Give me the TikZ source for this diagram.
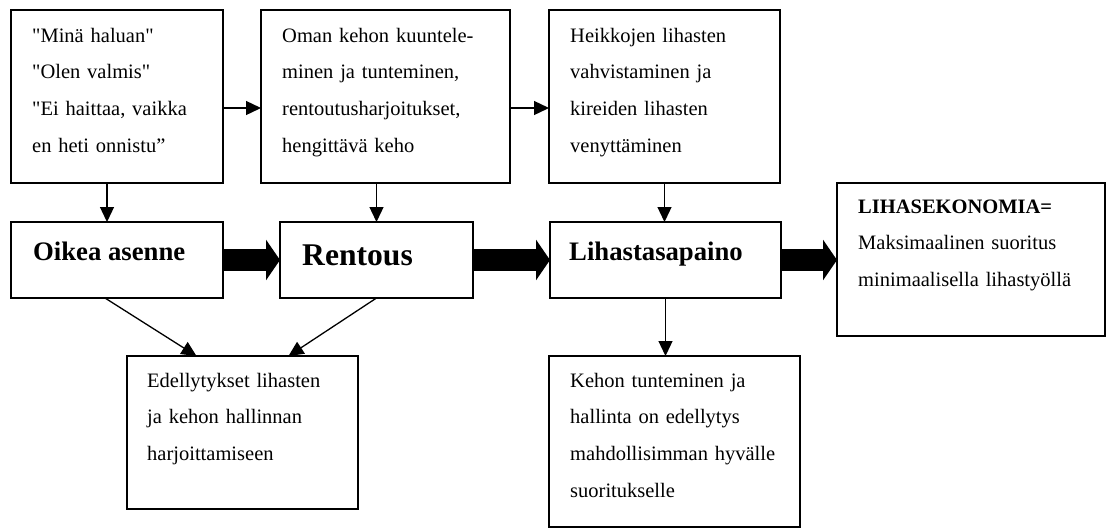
\documentclass[tikz,border=0pt]{standalone}
\usepackage{fontspec}
\setmainfont{Liberation Serif}[Ligatures=TeXOff]
\usetikzlibrary{arrows.meta,calc,positioning}

\begin{document}
\begin{tikzpicture}[x=1pt,y=-1pt,
  box/.style={draw,line width=1.6pt,anchor=north west,inner sep=0pt,outer sep=0pt},
  txt/.style={anchor=base west,inner sep=0pt,align=left,font=\fontsize{20.5}{36.8}\selectfont},
  head/.style={anchor=base west,inner sep=0pt,font=\bfseries\fontsize{26.7}{30}\selectfont},
  arr/.style={line width=1.3pt,-{Triangle[length=15pt,width=14pt]}},
  fat/.style={line width=22pt,-{Triangle[length=14pt,width=40pt]}}]
\useasboundingbox (0,0) rectangle (1113,528);

% top row
\node[box,minimum width=212pt,minimum height=173pt] (halu) at (11,10) {};
\node[box,minimum width=249pt,minimum height=173pt] (keho) at (261,10) {};
\node[box,minimum width=231pt,minimum height=173pt] (lihakset) at (549,10) {};

% middle row
\node[box,minimum width=212pt,minimum height=76pt] (asenne) at (11,222) {};
\node[box,minimum width=193pt,minimum height=76pt] (rentous) at (280,222) {};
\node[box,minimum width=231pt,minimum height=76pt] (tasapaino) at (550,222) {};
\node[box,minimum width=268pt,minimum height=153pt] (ekonomia) at (837,183) {};

% bottom row
\node[box,minimum width=231pt,minimum height=153pt] (edell) at (127,356) {};
\node[box,minimum width=251pt,minimum height=171pt] (hallinta) at (549,356) {};

% texts
\node[txt,text width=185pt] (tHalu) at ($(halu.north west)+(21,32)$)
  {"Minä haluan"\\"Olen valmis"\\"Ei haittaa, vaikka\\en heti onnistu”};
\node[txt,text width=220pt] (tKeho) at ($(keho.north west)+(21,32)$)
  {Oman kehon kuuntele-\\minen ja tunteminen,\\rentoutusharjoitukset,\\hengittävä keho};
\node[txt,text width=200pt] (tLihakset) at ($(lihakset.north west)+(21,32)$)
  {Heikkojen lihasten\\vahvistaminen ja\\kireiden lihasten\\venyttäminen};
\node[head] (tAsenne) at ($(asenne.north west)+(22,38)$) {Oikea asenne};
\node[head,font=\bfseries\fontsize{31.6}{34}\selectfont] (tRentous) at ($(rentous.north west)+(22,43)$) {Rentous};
\node[head] (tTasapaino) at ($(tasapaino.north west)+(19,38)$) {Lihastasapaino};
\node[txt,text width=240pt] (tEkonomia) at ($(ekonomia.north west)+(21,30)$)
  {\textbf{LIHASEKONOMIA=}\\Maksimaalinen suoritus\\minimaalisella lihastyöllä};
\node[txt,text width=205pt] (tEdell) at ($(edell.north west)+(20,31)$)
  {Edellytykset lihasten\\ja kehon hallinnan\\harjoittamiseen};
\node[txt,text width=225pt] (tHallinta) at ($(hallinta.north west)+(21,31)$)
  {Kehon tunteminen ja\\hallinta on edellytys\\mahdollisimman hyvälle\\suoritukselle};

% thin arrows
\draw[arr] ([yshift=-11.5pt]halu.east) -- ([yshift=-11.5pt]halu.east -| keho.west);
\draw[arr] ([yshift=-11.5pt]keho.east) -- ([yshift=-11.5pt]keho.east -| lihakset.west);
\draw[arr] ([xshift=-10pt]asenne.north |- halu.south) -- ([xshift=-10pt]asenne.north);
\draw[arr] (rentous.north |- keho.south) -- (rentous.north);
\draw[arr] (lihakset.south) -- (lihakset.south |- tasapaino.north);
\draw[arr] ([xshift=-12pt]asenne.south) -- ([xshift=-46pt]edell.north);
\draw[arr] (rentous.south) -- ([xshift=46pt]edell.north);
\draw[arr] (tasapaino.south) -- (tasapaino.south |- hallinta.north);

% thick arrows
\draw[fat] (asenne.east) -- (rentous.west);
\draw[fat] (rentous.east) -- (tasapaino.west);
\draw[fat] (tasapaino.east) -- (tasapaino.east -| ekonomia.west);

\end{tikzpicture}
\end{document}
